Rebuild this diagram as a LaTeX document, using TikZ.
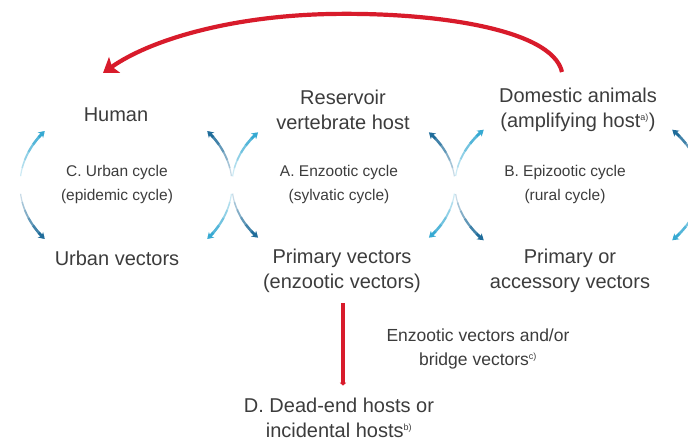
\documentclass[tikz,border=0pt]{standalone}
\usepackage{fontspec}
\setmainfont{Liberation Sans}
\usetikzlibrary{arrows.meta}
\definecolor{txt}{HTML}{3C3C3C}
\definecolor{redc}{HTML}{D81B2B}
\definecolor{bluedark}{HTML}{1F6C9A}
\definecolor{bluelight}{HTML}{36A9D2}
\newcommand\cyclearc[7]{%
  \foreach \k in {0,...,4}{%
    \pgfmathsetmacro\ta{#5+(#6-#5)*\k/6}%
    \pgfmathsetmacro\tb{#5+(#6-#5)*(\k+1)/6}%
    \pgfmathtruncatemacro\pct{10+90*(\k+1)/6}%
    \draw[line width=1.2pt+0.35pt*\k, color=#7!\pct!white]
      plot[domain=\ta:\tb, samples=5, variable=\t] ({#1+#3*cos(\t)},{#2+#4*sin(\t)});
  }%
  \pgfmathsetmacro\ta{#5+(#6-#5)*5/6}%
  \draw[line width=2.9pt, color=#7, -{Stealth[length=6pt,width=7.5pt,inset=1.5pt]}]
    plot[domain=\ta:#6, samples=5, variable=\t] ({#1+#3*cos(\t)},{#2+#4*sin(\t)});
}
\newcommand\cyclering[4]{% cx cy rx ry
  \cyclearc{#1}{#2}{#3}{#4}{186}{220}{bluelight}
  \cyclearc{#1}{#2}{#3}{#4}{174}{140}{bluedark}
  \cyclearc{#1}{#2}{#3}{#4}{-6}{-40}{bluedark}
  \cyclearc{#1}{#2}{#3}{#4}{6}{40}{bluelight}
}
\newcommand\supnote[1]{\textsuperscript{\fontsize{9}{9}\selectfont #1}}
\begin{document}
\begin{tikzpicture}[x=1pt,y=-1pt,
  lbl/.style={font=\fontsize{20}{25.5}\selectfont, text=txt, align=center, inner sep=0pt},
  sml/.style={font=\fontsize{15.5}{24}\selectfont, text=txt, align=center, inner sep=0pt},
  bridgetxt/.style={font=\fontsize{17.5}{24}\selectfont, text=txt, align=center, inner sep=0pt},
  redarrow/.style={draw=redc, line width=4.2pt, -{Stealth[length=14pt,width=19pt,inset=3pt]}},
  redline/.style={draw=redc, line width=4.5pt, -{Triangle[length=3pt,width=6pt]}}]
\useasboundingbox (0,0) rectangle (688,441);
% text nodes
\node[lbl] (human) at (116,115) {Human};
\node[lbl] (reservoir) at (343,110) {Reservoir\\vertebrate host};
\node[lbl] (domestic) at (578,110) {Domestic animals\\(amplifying host\supnote{a)})};
\node[sml] (cycC) at (117,184) {C. Urban cycle\\(epidemic cycle)};
\node[sml] (cycA) at (339,184) {A. Enzootic cycle\\(sylvatic cycle)};
\node[sml] (cycB) at (565,184) {B. Epizootic cycle\\(rural cycle)};
\node[lbl] (urbanvec) at (117,258) {Urban vectors};
\node[lbl] (primvec) at (342,271) {Primary vectors\\(enzootic vectors)};
\node[lbl] (primacc) at (570,271) {Primary or\\accessory vectors};
\node[bridgetxt] (bridge) at (478,349) {Enzootic vectors and/or\\bridge vectors\supnote{c)}};
\node[lbl] (deadend) at (339,418) {D. Dead-end hosts or\\incidental hosts\supnote{b)}};
% cycle arrows
\begin{scope}
\clip (0,0) rectangle (688,441);
\cyclering{126}{185}{106}{84}
\cyclering{343.5}{185}{111.5}{82}
\cyclering{578}{185}{123}{86}
\end{scope}
% red connectors
\coordinate (rs) at (562,72);
\coordinate (re) at (103,73);
\draw[redarrow] (rs) .. controls (552,28) and (430,12) .. (330,14)
  .. controls (230,16) and (150,40) .. (re);
\draw[redline] ([xshift=1pt,yshift=-10pt]primvec.south) -- ([xshift=1pt,yshift=12pt]primvec.south |- deadend.north);
\end{tikzpicture}
\end{document}
